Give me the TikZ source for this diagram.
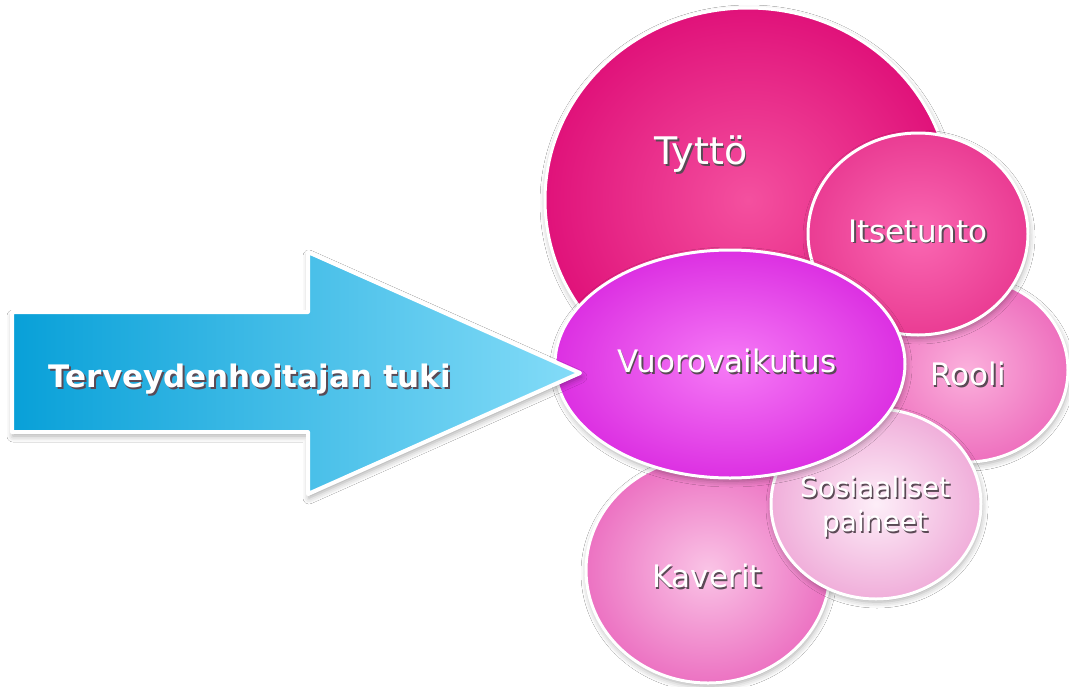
\documentclass[tikz,border=0pt]{standalone}
\usepackage{fontspec}
\setmainfont{DejaVu Sans}
\usetikzlibrary{shapes.geometric,shadows.blur}

\definecolor{tyttoIn}{HTML}{F4509F}
\definecolor{tyttoOut}{HTML}{E0127A}
\definecolor{itseIn}{HTML}{FA68B2}
\definecolor{itseOut}{HTML}{EA3C93}
\definecolor{rooliIn}{HTML}{FBB0DC}
\definecolor{rooliOut}{HTML}{EE70BE}
\definecolor{vuoroIn}{HTML}{F67AF6}
\definecolor{vuoroOut}{HTML}{DC30E2}
\definecolor{sosIn}{HTML}{FDEEF8}
\definecolor{sosOut}{HTML}{F0AEDA}
\definecolor{kaverIn}{HTML}{FAC4E6}
\definecolor{kaverOut}{HTML}{EC72C2}
\definecolor{arrowL}{HTML}{08A0D8}
\definecolor{arrowR}{HTML}{84DCF8}
\definecolor{txtShadow}{HTML}{5A4A55}

\newcommand\shtxt[1]{\rlap{\kern1.6pt\raisebox{-1.6pt}{\textcolor{txtShadow}{#1}}}#1}

\tikzset{
  bubble/.style={ellipse, draw=white, line width=3pt, inner sep=0pt,
    blur shadow={shadow xshift=1pt, shadow yshift=-3pt, shadow blur radius=6pt,
      shadow opacity=35}},
  lbl/.style={text=white, font=\fontsize{31}{36}\selectfont, align=center, inner sep=0pt},
  arrowbody/.style={draw=white, line width=4pt, line join=round,
    left color=arrowL, right color=arrowR,
    blur shadow={shadow xshift=1pt, shadow yshift=-4pt, shadow blur radius=6pt,
      shadow opacity=35}},
}

\begin{document}
\begin{tikzpicture}[x=1pt, y=-1pt]
    % Page
    \fill[white] (0,0) rectangle (1069,686);
    \useasboundingbox (0,0) rectangle (1069,686);
    % Bubbles, back to front
    \node[bubble, minimum width=406pt, minimum height=384pt, inner color=tyttoIn, outer color=tyttoOut] (tytto) at (748,200) {};
    \node[bubble, minimum width=202pt, minimum height=184pt, inner color=rooliIn, outer color=rooliOut] (rooli) at (967,370) {};
    \node[bubble, minimum width=220pt, minimum height=202pt, inner color=itseIn, outer color=itseOut] (itsetunto) at (918,234) {};
    \node[bubble, minimum width=244pt, minimum height=226pt, inner color=kaverIn, outer color=kaverOut] (kaverit) at (708,570) {};
    \node[bubble, minimum width=210pt, minimum height=190pt, inner color=sosIn, outer color=sosOut] (sosiaaliset) at (876,504) {};
    \node[bubble, minimum width=350pt, minimum height=228pt, inner color=vuoroIn, outer color=vuoroOut] (vuoro) at (730,364) {};
    % Arrow
    \path[arrowbody] (12,312) -- (308,312) -- (308,252) -- (580,373)
        -- (308,494) -- (308,432) -- (12,432) -- cycle;
    \node[lbl, font=\bfseries\fontsize{31}{36}\selectfont] (tuki) at (250,380) {\shtxt{Terveydenhoitajan tuki}};
    % Labels
    \node[lbl, font=\fontsize{38}{44}\selectfont] (tyttoLbl) at (701,155) {\shtxt{Tyttö}};
    \node[lbl] (itseLbl) at (918,232) {\shtxt{Itsetunto}};
    \node[lbl] (rooliLbl) at (968,375) {\shtxt{Rooli}};
    \node[lbl] (vuoroLbl) at (727,362) {\shtxt{Vuorovaikutus}};
    \node[lbl, font=\fontsize{28}{34}\selectfont] (sosLbl) at (875,508) {\shtxt{Sosiaaliset}\\\shtxt{paineet}};
    \node[lbl] (kaverLbl) at (707,577) {\shtxt{Kaverit}};
\end{tikzpicture}
\end{document}
